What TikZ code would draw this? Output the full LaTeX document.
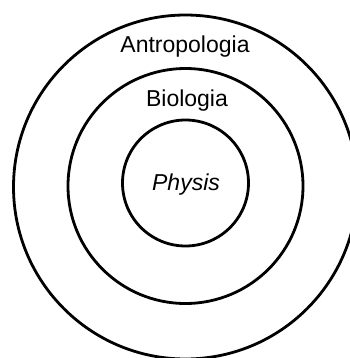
\documentclass[tikz,border=0pt]{standalone}
\usepackage{fontspec}
\setmainfont{Liberation Sans}
\usepackage{tikz}
\usetikzlibrary{positioning}

\begin{document}
\begin{tikzpicture}[
  x=0.75pt, y=-0.75pt,
  ring/.style={draw, circle, line width=2.1pt, inner sep=0pt, outer sep=0pt},
  word/.style={anchor=base, inner sep=0pt, font=\fontsize{17.25}{20}\selectfont}
]
\useasboundingbox (0,0) rectangle (350,358);
\node[ring, minimum size=94.5pt] (physis) at (185.5,183) {};
\node[ring, minimum size=176.25pt] (bio) at (185.5,186) {};
\node[ring, minimum size=258pt] (antro) at (185.5,187) {};
\node[word] (antrolabel) at (185,52) {Antropologia};
\node[word] (biolabel) at (187,106) {Biologia};
\node[word] (physislabel) at (186,190) {\itshape Physis};
\end{tikzpicture}
\end{document}
